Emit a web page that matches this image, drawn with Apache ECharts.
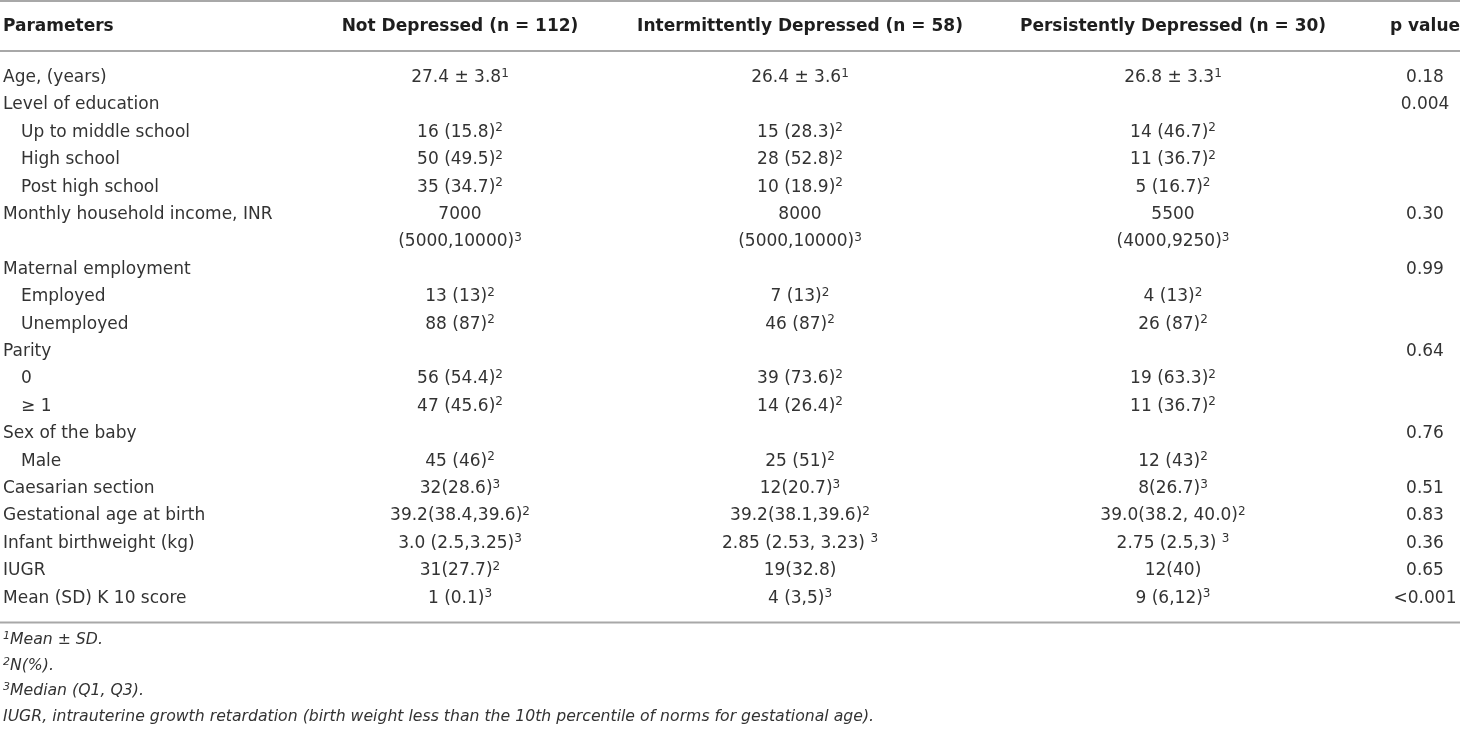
<!DOCTYPE html>
<html lang="en" style="height: 100%">
<head>
    <meta charset="utf-8">
</head>
<body style="height: 100%; margin: 0; background: #fff">
<div id="container" style="width: 1460px; height: 731px"></div>

<script type="text/javascript" src="https://fastly.jsdelivr.net/npm/echarts@6.0.0/dist/echarts.min.js"></script>

<script type="text/javascript">
    // table contents; "^n" marks a superscript footnote number
    var columnTitles = [
        'Parameters',
        'Not Depressed (n = 112)',
        'Intermittently Depressed (n = 58)',
        'Persistently Depressed (n = 30)',
        'p value'
    ];
    var parameters = [
        'Age, (years)', 'Level of education', 'Up to middle school', 'High school', 'Post high school',
        'Monthly household income, INR', '', 'Maternal employment', 'Employed', 'Unemployed',
        'Parity', '0', '\u2265 1', 'Sex of the baby', 'Male',
        'Caesarian section', 'Gestational age at birth', 'Infant birthweight (kg)', 'IUGR', 'Mean (SD) K 10 score'
    ];
    var subRow = [0, 0, 1, 1, 1, 0, 0, 0, 1, 1, 0, 1, 1, 0, 1, 0, 0, 0, 0, 0];
    var notDepressed = [
        '27.4 \u00b1 3.8^1', '', '16 (15.8)^2', '50 (49.5)^2', '35 (34.7)^2',
        '7000', '(5000,10000)^3', '', '13 (13)^2', '88 (87)^2',
        '', '56 (54.4)^2', '47 (45.6)^2', '', '45 (46)^2',
        '32(28.6)^3', '39.2(38.4,39.6)^2', '3.0 (2.5,3.25)^3', '31(27.7)^2', '1 (0.1)^3'
    ];
    var intermittentlyDepressed = [
        '26.4 \u00b1 3.6^1', '', '15 (28.3)^2', '28 (52.8)^2', '10 (18.9)^2',
        '8000', '(5000,10000)^3', '', '7 (13)^2', '46 (87)^2',
        '', '39 (73.6)^2', '14 (26.4)^2', '', '25 (51)^2',
        '12(20.7)^3', '39.2(38.1,39.6)^2', '2.85 (2.53, 3.23) ^3', '19(32.8)', '4 (3,5)^3'
    ];
    var persistentlyDepressed = [
        '26.8 \u00b1 3.3^1', '', '14 (46.7)^2', '11 (36.7)^2', '5 (16.7)^2',
        '5500', '(4000,9250)^3', '', '4 (13)^2', '26 (87)^2',
        '', '19 (63.3)^2', '11 (36.7)^2', '', '12 (43)^2',
        '8(26.7)^3', '39.0(38.2, 40.0)^2', '2.75 (2.5,3) ^3', '12(40)', '9 (6,12)^3'
    ];
    var pValues = [
        '0.18', '0.004', '', '', '',
        '0.30', '', '0.99', '', '',
        '0.64', '', '', '0.76', '',
        '0.51', '0.83', '0.36', '0.65', '<0.001'
    ];
    var footnotes = [
        '^1Mean \u00b1 SD.',
        '^2N(%).',
        '^3Median (Q1, Q3).',
        'IUGR, intrauterine growth retardation (birth weight less than the 10th percentile of norms for gestational age).'
    ];

    // layout
    var FONT = '"DejaVu Sans", sans-serif';
    var colX = [3, 460, 800, 1173, 1425];
    var indentX = 21;
    var headerY = 27, bodyTop = 77.5, rowStep = 27.4, footTop = 640.3, footStep = 25.5;
    var ruleY = [1, 51, 622.5];

    function toRich(s, kind, supKind) {
        return s.split(/(\^\d)/).filter(function (p) { return p !== ''; }).map(function (p) {
            return p.charAt(0) === '^' ? '{' + supKind + '|' + p.slice(1) + '}' : '{' + kind + '|' + p + '}';
        }).join('');
    }

    var cells = [];
    columnTitles.forEach(function (t, c) {
        cells.push({ x: colX[c], y: headerY, text: toRich(t, 'b', 'sup'), align: c === 0 ? 'left' : 'center' });
    });
    var bodyCols = [parameters, notDepressed, intermittentlyDepressed, persistentlyDepressed, pValues];
    bodyCols.forEach(function (col, c) {
        col.forEach(function (t, r) {
            if (!t) return;
            var x = c === 0 && subRow[r] ? indentX : colX[c];
            cells.push({ x: x, y: bodyTop + r * rowStep, text: toRich(t, 'n', 'sup'), align: c === 0 ? 'left' : 'center' });
        });
    });
    footnotes.forEach(function (t, i) {
        cells.push({ x: colX[0], y: footTop + i * footStep, text: toRich(t, 'i', 'isup'), align: 'left' });
    });

    var rich = {
        n: { fontFamily: FONT, fontSize: 17, fill: '#333', color: '#333', lineHeight: 20 },
        b: { fontFamily: FONT, fontSize: 17, fontWeight: 'bold', fill: '#1e1e1e', color: '#1e1e1e', lineHeight: 20 },
        i: { fontFamily: FONT, fontSize: 15.7, fontStyle: 'italic', fill: '#333', color: '#333', lineHeight: 19 },
        sup: { fontFamily: FONT, fontSize: 12, fill: '#333', color: '#333', lineHeight: 12, verticalAlign: 'top' },
        isup: { fontFamily: FONT, fontSize: 11, fontStyle: 'italic', fill: '#333', color: '#333', lineHeight: 11, verticalAlign: 'top' }
    };

    var dom = document.getElementById('container');
    var myChart = echarts.init(dom, null, { renderer: 'canvas' });

    var option = {
        animation: false,
        backgroundColor: '#fff',
        grid: { left: 0, right: 0, top: 0, bottom: 0 },
        xAxis: { type: 'value', min: 0, max: 1460, show: false },
        yAxis: { type: 'value', min: 0, max: 731, inverse: true, show: false },
        series: [
            {
                type: 'custom',
                silent: true,
                data: ruleY.map(function (y) { return [0, y]; }),
                renderItem: function (params, api) {
                    var a = api.coord([0, api.value(1)]);
                    var b = api.coord([1460, api.value(1)]);
                    return {
                        type: 'line',
                        shape: { x1: a[0], y1: a[1], x2: b[0], y2: b[1] },
                        style: { stroke: '#a8a8a8', lineWidth: 2 }
                    };
                }
            },
            {
                type: 'custom',
                silent: true,
                data: cells.map(function (d) { return [d.x, d.y]; }),
                renderItem: function (params, api) {
                    var d = cells[params.dataIndex];
                    var p = api.coord([api.value(0), api.value(1)]);
                    return {
                        type: 'text',
                        x: p[0],
                        y: p[1],
                        style: {
                            text: d.text,
                            align: d.align,
                            verticalAlign: 'middle',
                            rich: rich
                        }
                    };
                }
            }
        ]
    };

    myChart.setOption(option);
    window.addEventListener('resize', myChart.resize);
</script>
</body>
</html>
